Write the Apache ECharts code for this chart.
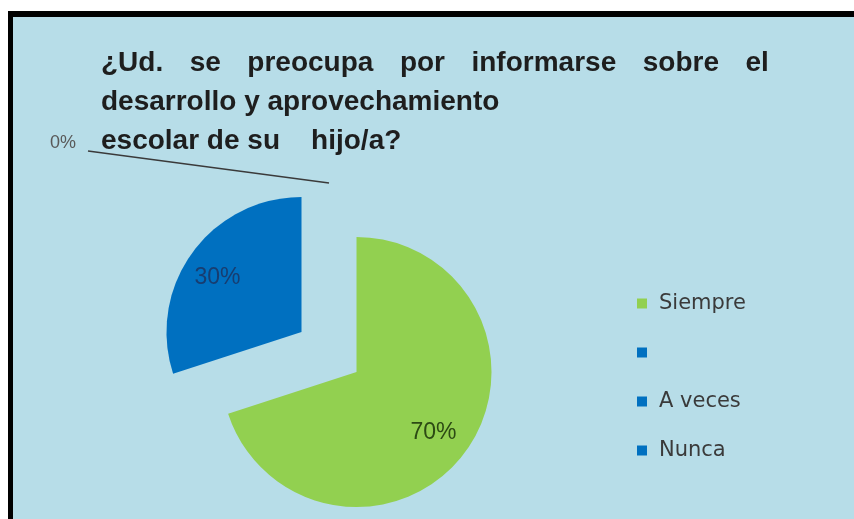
<!DOCTYPE html>
<html><head><meta charset="utf-8">
<script src="https://cdn.jsdelivr.net/npm/echarts@6/dist/echarts.min.js"></script>
<style>
html,body{margin:0;padding:0;background:#fff;overflow:hidden;}
#frame{position:absolute;left:8px;top:11px;width:841px;height:502px;background:#B7DDE8;border-top:6px solid #000;border-left:5px solid #000;}
#chart{position:absolute;left:0;top:0;width:854px;height:519px;}
</style></head><body>
<div id="frame"></div><div id="chart"></div>
<script>
const titleWords = ['¿Ud.', 'se', 'preocupa', 'por', 'informarse', 'sobre', 'el'];
const titleLines = [
  'desarrollo y aprovechamiento',
  'escolar de su    hijo/a?'
];
const categories = ['Siempre', ' ', 'A veces', 'Nunca'];
const values = [70, 0, 30, 0];
const colors = ['#92D050', '#0070C0', '#0070C0', '#0070C0'];
const labelColors = ['#2C4A14', '#173D70', '#173D70', '#595959'];

const chart = echarts.init(document.getElementById('chart'), null, {renderer: 'canvas'});
const data = categories.map((c, i) => {
  const item = {name: c, value: values[i], selected: true,
    itemStyle: {color: colors[i]},
    label: {color: labelColors[i]}};
  if (i === 1) item.label.show = false;
  if (i === 3) {
    item.label = {show: true, position: 'outside', color: labelColors[i], fontSize: 18};
    item.labelLine = {show: true, length: 10, length2: 10, lineStyle: {color: '#3a3a3a', width: 1.5}};
  }
  return item;
});

const firstLine = titleWords.join('{g| }');

chart.setOption({
  animation: false,
  backgroundColor: 'transparent',
  title: {
    text: [firstLine].concat(titleLines).join('\n'),
    left: 101, top: 44, padding: 0,
    textStyle: {fontFamily: 'Liberation Sans', fontWeight: 'bold', fontSize: 28, lineHeight: 39, color: '#1e1e1e',
      rich: {g: {width: 26.5, fontSize: 28, lineHeight: 39}}}
  },
  legend: {
    orient: 'vertical', left: 632, top: 288,
    data: categories,
    icon: 'rect', itemWidth: 10, itemHeight: 10, itemGap: 28,
    selectedMode: false,
    textStyle: {fontFamily: 'DejaVu Sans', fontSize: 21, color: '#3a3a3a', padding: [0,0,0,7]}
  },
  series: [{
    type: 'pie',
    center: [329, 352],
    radius: 135,
    startAngle: 90,
    clockwise: true,
    selectedMode: 'multiple',
    selectedOffset: 34,
    avoidLabelOverlap: false,
    emphasis: {disabled: true},
    label: {show: true, position: 'inside', formatter: p => Math.round(p.percent) + '%',
      fontFamily: 'Liberation Sans', fontSize: 23},
    labelLine: {show: false},
    labelLayout: function (p) {
      if (p.dataIndex === 0) return {dx: 20, dy: 19};
      if (p.dataIndex === 2) return {dx: -27, dy: -13};
      if (p.dataIndex === 3) {
        const res = {dx: -238, dy: -30};
        if (p.labelLinePoints) {
          const s = p.labelLinePoints[0];
          res.labelLinePoints = [s, [s[0] - 241, s[1] - 32]];
        }
        return res;
      }
    },
    data: data
  }]
});
</script>
</body></html>
